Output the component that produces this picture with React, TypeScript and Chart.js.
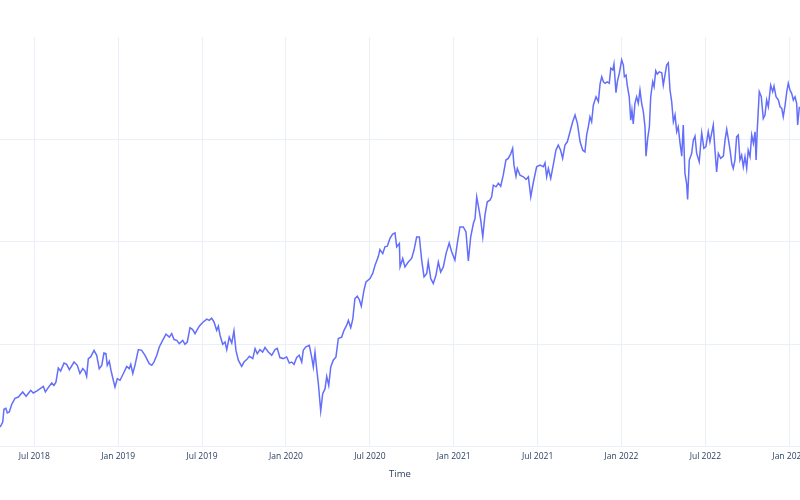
import { useEffect, useRef } from 'react'
import { Chart, registerables } from 'chart.js'

Chart.register(...registerables)

// time in decimal years (grid lines every 50)
const YEARS = [
  2018.296, 2018.312, 2018.319, 2018.331, 2018.339, 2018.351, 2018.365, 2018.385, 2018.405, 2018.431, 2018.451, 2018.479,
  2018.494, 2018.514, 2018.554, 2018.566, 2018.583, 2018.604, 2018.617, 2018.629, 2018.643, 2018.657, 2018.677, 2018.693,
  2018.709, 2018.737, 2018.756, 2018.772, 2018.789, 2018.802, 2018.812, 2018.822, 2018.836, 2018.856, 2018.872, 2018.887,
  2018.902, 2018.915, 2018.927, 2018.935, 2018.947, 2018.957, 2018.971, 2018.981, 2018.995, 2019.011, 2019.031, 2019.051,
  2019.066, 2019.075, 2019.087, 2019.100, 2019.120, 2019.140, 2019.160, 2019.185, 2019.200, 2019.213, 2019.230, 2019.245,
  2019.265, 2019.285, 2019.305, 2019.319, 2019.333, 2019.349, 2019.364, 2019.385, 2019.398, 2019.412, 2019.428, 2019.444,
  2019.458, 2019.478, 2019.488, 2019.507, 2019.528, 2019.543, 2019.557, 2019.571, 2019.587, 2019.597, 2019.607, 2019.623,
  2019.637, 2019.647, 2019.662, 2019.677, 2019.690, 2019.702, 2019.716, 2019.736, 2019.750, 2019.766, 2019.782, 2019.802,
  2019.816, 2019.829, 2019.845, 2019.861, 2019.875, 2019.895, 2019.915, 2019.935, 2019.948, 2019.964, 2019.984, 2020.004,
  2020.020, 2020.034, 2020.048, 2020.064, 2020.079, 2020.094, 2020.103, 2020.119, 2020.139, 2020.153, 2020.163, 2020.173,
  2020.183, 2020.193, 2020.207, 2020.219, 2020.233, 2020.243, 2020.255, 2020.267, 2020.282, 2020.298, 2020.312, 2020.332,
  2020.346, 2020.362, 2020.372, 2020.386, 2020.398, 2020.411, 2020.425, 2020.437, 2020.449, 2020.465, 2020.477, 2020.501,
  2020.517, 2020.531, 2020.550, 2020.560, 2020.577, 2020.590, 2020.604, 2020.620, 2020.636, 2020.650, 2020.660, 2020.676,
  2020.680, 2020.696, 2020.709, 2020.729, 2020.749, 2020.763, 2020.779, 2020.795, 2020.809, 2020.823, 2020.839, 2020.848,
  2020.863, 2020.878, 2020.894, 2020.908, 2020.922, 2020.938, 2020.954, 2020.973, 2020.988, 2021.007, 2021.021, 2021.037,
  2021.057, 2021.073, 2021.087, 2021.101, 2021.117, 2021.127, 2021.137, 2021.151, 2021.161, 2021.173, 2021.186, 2021.200,
  2021.216, 2021.226, 2021.236, 2021.252, 2021.266, 2021.280, 2021.295, 2021.311, 2021.325, 2021.339, 2021.351, 2021.359,
  2021.371, 2021.379, 2021.395, 2021.415, 2021.431, 2021.445, 2021.459, 2021.474, 2021.494, 2021.514, 2021.534, 2021.544,
  2021.554, 2021.564, 2021.578, 2021.593, 2021.609, 2021.623, 2021.637, 2021.649, 2021.663, 2021.677, 2021.693, 2021.709,
  2021.723, 2021.737, 2021.753, 2021.769, 2021.782, 2021.792, 2021.802, 2021.812, 2021.822, 2021.832, 2021.848, 2021.862,
  2021.872, 2021.882, 2021.892, 2021.902, 2021.915, 2021.927, 2021.936, 2021.948, 2021.955, 2021.967, 2021.975, 2021.987,
  2022.001, 2022.011, 2022.017, 2022.027, 2022.034, 2022.046, 2022.055, 2022.062, 2022.070, 2022.080, 2022.090, 2022.100,
  2022.110, 2022.120, 2022.130, 2022.140, 2022.146, 2022.156, 2022.166, 2022.174, 2022.186, 2022.194, 2022.204, 2022.213,
  2022.225, 2022.240, 2022.249, 2022.259, 2022.269, 2022.279, 2022.289, 2022.299, 2022.309, 2022.319, 2022.329, 2022.338,
  2022.349, 2022.359, 2022.368, 2022.378, 2022.388, 2022.394, 2022.404, 2022.418, 2022.428, 2022.438, 2022.448, 2022.463,
  2022.478, 2022.491, 2022.503, 2022.517, 2022.527, 2022.537, 2022.547, 2022.557, 2022.567, 2022.577, 2022.591, 2022.607,
  2022.617, 2022.627, 2022.636, 2022.647, 2022.657, 2022.666, 2022.676, 2022.686, 2022.696, 2022.706, 2022.716, 2022.726,
  2022.736, 2022.746, 2022.755, 2022.766, 2022.776, 2022.786, 2022.796, 2022.802, 2022.809, 2022.821, 2022.833, 2022.845,
  2022.855, 2022.865, 2022.875, 2022.889, 2022.901, 2022.909, 2022.921, 2022.935, 2022.945, 2022.955, 2022.964, 2022.975,
  2022.985, 2022.994, 2023.004, 2023.014, 2023.024, 2023.034, 2023.044, 2023.050, 2023.060,
]

const VALUES = [
  109.4, 111.9, 118.1, 118.6, 116.3, 116.8, 120.5, 123.5, 124.1, 126.6, 124.5, 127.4,
  126.1, 127.0, 129.3, 126.6, 128.7, 131.0, 129.8, 131.4, 138.3, 136.8, 140.7, 140.1,
  137.5, 141.2, 139.6, 135.6, 138.0, 136.8, 134.2, 142.9, 143.7, 146.9, 144.5, 138.0,
  139.6, 145.6, 145.3, 139.6, 141.6, 137.2, 132.3, 129.0, 133.1, 132.3, 135.6, 139.1,
  138.0, 140.1, 135.6, 139.6, 147.3, 146.9, 144.5, 140.4, 139.6, 141.2, 144.5, 148.6,
  151.8, 154.8, 153.4, 155.1, 152.2, 151.8, 150.2, 151.8, 149.9, 151.0, 158.0, 157.1,
  155.1, 158.0, 159.2, 160.8, 162.2, 161.6, 162.6, 160.8, 156.7, 158.7, 154.3, 149.9,
  151.0, 147.3, 153.4, 150.5, 156.4, 146.9, 142.1, 139.1, 141.2, 142.4, 144.0, 142.9,
  147.8, 145.3, 147.3, 146.1, 148.3, 146.1, 144.5, 147.3, 147.9, 143.4, 142.9, 143.7,
  140.7, 141.2, 140.1, 143.4, 144.5, 141.2, 146.9, 148.6, 149.4, 143.7, 138.8, 146.1,
  138.0, 130.7, 117.3, 125.8, 128.2, 134.2, 129.8, 138.8, 142.1, 143.7, 152.7, 153.4,
  156.7, 159.2, 161.6, 158.0, 162.0, 172.2, 173.4, 171.7, 168.5, 176.3, 180.3, 182.0,
  184.5, 188.5, 192.6, 196.2, 194.2, 197.5, 197.8, 201.6, 203.7, 204.3, 197.5, 199.1,
  187.7, 191.8, 187.7, 190.1, 191.8, 195.8, 202.3, 202.3, 191.0, 182.8, 184.5, 190.1,
  182.0, 179.6, 183.6, 190.1, 185.2, 187.7, 194.2, 199.4, 195.0, 191.0, 199.1, 207.2,
  207.2, 204.8, 190.6, 202.3, 208.9, 211.3, 221.9, 215.4, 210.5, 202.3, 213.0, 219.5,
  220.3, 221.9, 227.6, 226.8, 228.5, 227.1, 232.5, 239.9, 240.7, 242.8, 245.6, 237.4,
  232.0, 235.8, 232.5, 231.7, 230.4, 231.7, 221.9, 228.8, 236.6, 237.4, 236.6, 238.5,
  231.7, 235.8, 230.9, 237.4, 244.7, 247.2, 244.7, 240.7, 247.2, 248.8, 253.7, 258.6,
  261.9, 257.8, 248.8, 244.7, 243.9, 252.1, 256.1, 261.0, 258.6, 266.7, 270.8, 268.4,
  277.0, 280.6, 278.1, 277.4, 278.1, 277.4, 284.7, 283.9, 286.8, 272.8, 278.1, 282.3,
  288.8, 286.3, 280.6, 281.4, 276.5, 270.8, 259.4, 264.3, 257.5, 267.6, 270.8, 267.6,
  274.1, 267.6, 263.5, 256.1, 241.8, 250.5, 256.1, 270.8, 278.1, 275.7, 283.5, 281.9,
  283.0, 282.5, 276.5, 281.4, 286.3, 287.4, 274.1, 268.4, 258.6, 261.9, 253.7, 256.1,
  248.0, 241.8, 257.0, 233.4, 228.5, 220.6, 239.9, 243.1, 249.6, 251.6, 243.1, 239.0,
  253.2, 245.6, 246.4, 253.7, 248.8, 252.9, 257.0, 244.7, 234.1, 243.1, 240.7, 241.8,
  249.6, 254.9, 250.5, 244.7, 238.2, 235.8, 239.9, 251.2, 252.1, 239.9, 242.3, 236.6,
  241.5, 235.8, 244.7, 241.5, 252.1, 248.0, 253.7, 239.9, 254.5, 273.3, 270.8, 260.2,
  261.9, 269.2, 265.9, 276.5, 273.3, 276.0, 270.8, 269.2, 265.9, 265.1, 261.0, 266.7,
  273.3, 277.4, 274.1, 272.5, 269.2, 270.8, 267.6, 257.0, 265.9,
]

const X_TICKS = [2018.5, 2019, 2019.5, 2020, 2020.5, 2021, 2021.5, 2022, 2022.5, 2023]
const X_TICK_LABELS = [
  'Jul 2018', 'Jan 2019', 'Jul 2019', 'Jan 2020', 'Jul 2020',
  'Jan 2021', 'Jul 2021', 'Jan 2022', 'Jul 2022', 'Jan 2023',
]
const Y_TICKS = [100, 150, 200, 250]

const FONT = "'Open Sans', 'DejaVu Sans', sans-serif"
const TEXT = '#2a3f5f'
const GRID = '#EBF0F8'

export default function App() {
  const canvasRef = useRef<HTMLCanvasElement>(null)

  useEffect(() => {
    document.body.style.margin = '0'
    if (!canvasRef.current) return

    const chart = new Chart(canvasRef.current, {
      type: 'line',
      data: {
        datasets: [
          {
            data: YEARS.map((x, i) => ({ x, y: VALUES[i] })),
            borderColor: '#636EFA',
            borderWidth: 1.5,
            pointRadius: 0,
            tension: 0,
            fill: false,
          },
        ],
      },
      options: {
        animation: false,
        responsive: true,
        maintainAspectRatio: false,
        layout: { padding: { top: 37, left: 0, right: 0, bottom: 20 } },
        plugins: { legend: { display: false }, tooltip: { enabled: false } },
        scales: {
          x: {
            type: 'linear',
            min: 2018.2956,
            max: 2023.0638,
            afterBuildTicks: (scale) => {
              scale.ticks = X_TICKS.map((value) => ({ value }))
            },
            afterFit: (scale) => {
              // let the last label run off the edge like the original
              scale.paddingLeft = 0
              scale.paddingRight = 0
            },
            grid: { color: GRID, lineWidth: 1, drawTicks: false },
            border: { display: false },
            ticks: {
              padding: 5,
              maxRotation: 0,
              autoSkip: false,
              color: TEXT,
              font: { family: FONT, size: 8.5 },
              callback: (value) => {
                const i = X_TICKS.indexOf(Number(value))
                return i >= 0 ? X_TICK_LABELS[i] : ''
              },
            },
            title: {
              display: true,
              text: 'Time',
              color: TEXT,
              padding: { top: 2, bottom: 0 },
              font: { family: FONT, size: 9.5 },
            },
          },
          y: {
            min: 100,
            max: 300,
            afterBuildTicks: (scale) => {
              scale.ticks = Y_TICKS.map((value) => ({ value }))
            },
            grid: { color: GRID, lineWidth: 1, drawTicks: false },
            border: { display: false },
            ticks: { display: false },
          },
        },
      },
    })

    return () => chart.destroy()
  }, [])

  return (
    <div style={{ width: '800px', height: '500px', position: 'relative' }}>
      <canvas ref={canvasRef} />
    </div>
  )
}
